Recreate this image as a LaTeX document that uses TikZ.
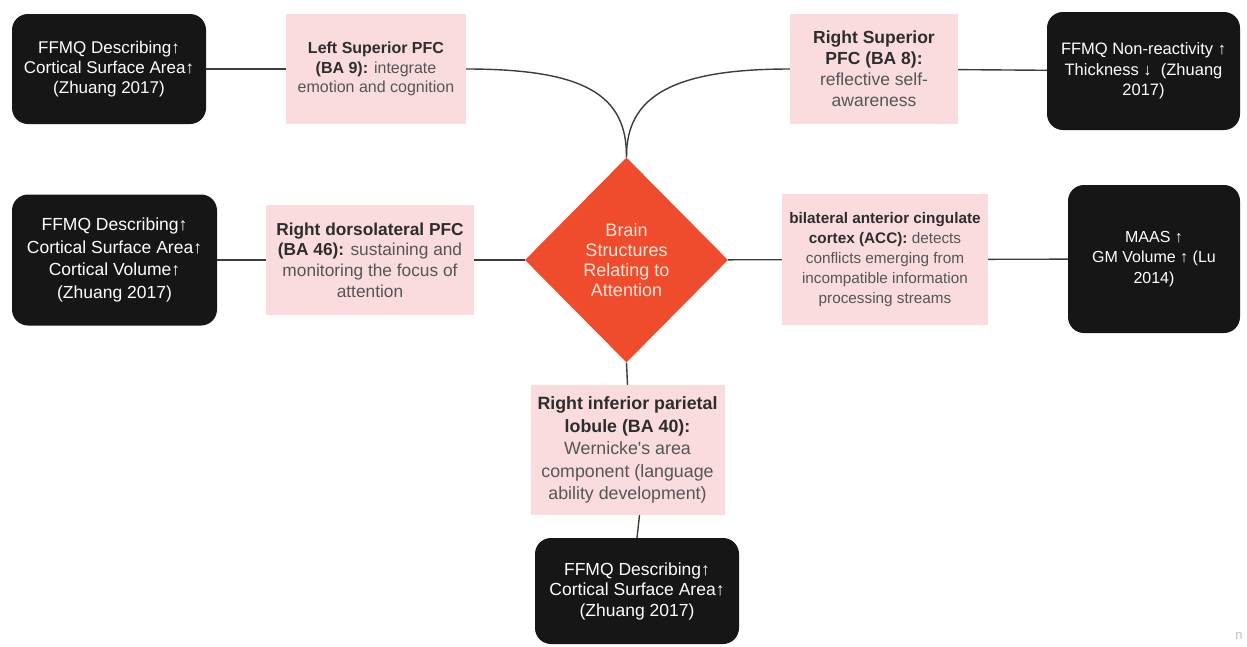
\documentclass[tikz,border=0pt]{standalone}
\usepackage{fontspec}
\setmainfont{Liberation Sans}
\usetikzlibrary{shapes.geometric}
\definecolor{boxpink}{RGB}{250,220,223}
\definecolor{boxblack}{RGB}{22,22,22}
\definecolor{hubred}{RGB}{238,76,44}
\definecolor{hubtext}{RGB}{255,228,215}
\definecolor{inkdark}{RGB}{45,45,45}
\definecolor{inkgray}{RGB}{85,85,85}
\definecolor{wire}{RGB}{60,60,60}
\newcommand{\hd}[1]{\textbf{\color{inkdark}#1}}
\begin{document}
\begin{tikzpicture}[x=1pt,y=-1pt,
  every node/.style={align=center, inner sep=0pt},
  sz/.style n args={2}{font=\fontsize{#1}{#2}\selectfont},
  findingbox/.style={fill=boxblack, rounded corners=16pt, text=white},
  regionbox/.style={fill=boxpink, text=inkgray},
  hub/.style={diamond, fill=hubred, minimum width=203pt, minimum height=205pt, inner sep=0pt},
  wireline/.style={draw=wire, line width=1.4pt}]
\useasboundingbox (0,0) rectangle (1247,646);
\fill[white] (0,0) rectangle (1247,646);

% central hub
\node[hub] (hub) at (626.5,260) {};
\node[text=hubtext, sz={18}{20}] (hubtxt) at (hub) {Brain\\Structures\\Relating to\\Attention};

% upper row
\node[findingbox, sz={17}{20}, minimum width=194pt, minimum height=110pt] (fa) at (109,69)
  {FFMQ Describing↑\\Cortical Surface Area↑\\(Zhuang 2017)};
\node[regionbox, sz={16}{19.5}, minimum width=180pt, minimum height=110pt] (lsp) at (376,69)
  {\hd{Left Superior PFC}\\\hd{(BA 9):} integrate\\emotion and cognition};
\node[regionbox, sz={17.5}{21}, minimum width=168pt, minimum height=110pt] (rsp) at (874,69)
  {\hd{Right Superior}\\\hd{PFC (BA 8):}\\reflective self-\\awareness};
\node[findingbox, sz={16.5}{20.5}, minimum width=193pt, minimum height=118pt] (fb) at (1143.5,71)
  {FFMQ Non-reactivity ↑\\Thickness ↓~ (Zhuang\\2017)};

% middle row
\node[findingbox, sz={17.5}{22.5}, minimum width=205pt, minimum height=131pt] (fc) at (114.5,260)
  {FFMQ Describing↑\\Cortical Surface Area↑\\Cortical Volume↑\\(Zhuang 2017)};
\node[regionbox, sz={17.3}{20.7}, minimum width=208pt, minimum height=110pt] (dlp) at (370,260)
  {\hd{Right dorsolateral PFC}\\\hd{(BA 46):} sustaining and\\monitoring the focus of\\attention};
\node[regionbox, sz={15.3}{20}, minimum width=206pt, minimum height=131pt] (acc) at (885,259.5)
  {\hd{bilateral anterior cingulate}\\\hd{cortex (ACC):} detects\\conflicts emerging from\\incompatible information\\processing streams};
\node[findingbox, sz={16}{20.5}, minimum width=172pt, minimum height=148pt] (fd) at (1154,259)
  {MAAS ↑\\GM Volume ↑ (Lu\\2014)};

% lower column
\node[regionbox, sz={17.8}{22.5}, minimum width=194pt, minimum height=130pt] (ipl) at (627.5,450)
  {\hd{Right inferior parietal}\\\hd{lobule (BA 40):}\\Wernicke\textquotesingle s area\\component (language\\ability development)};
\node[findingbox, sz={17.5}{20.5}, minimum width=204pt, minimum height=106pt] (fe) at (637,591)
  {FFMQ Describing↑\\Cortical Surface Area↑\\(Zhuang 2017)};

% connectors
\draw[wireline] (fa) -- (lsp);
\draw[wireline] (lsp.east) .. controls (585,69) and (627,95) .. (hub.north);
\draw[wireline] (rsp.west) .. controls (675,69) and (626,95) .. (hub.north);
\draw[wireline] (rsp) -- (fb);
\draw[wireline] (fc) -- (dlp);
\draw[wireline] (dlp) -- (hub);
\draw[wireline] (hub) -- (acc);
\draw[wireline] (acc) -- (fd);
\draw[wireline] (hub.south) -- (ipl.north);
\draw[wireline] ([xshift=12pt]ipl.south) -- (fe.north);

% corner mark
\node[text=black!25, sz={13}{13}] (mark) at (1239,636) {n};
\end{tikzpicture}
\end{document}
